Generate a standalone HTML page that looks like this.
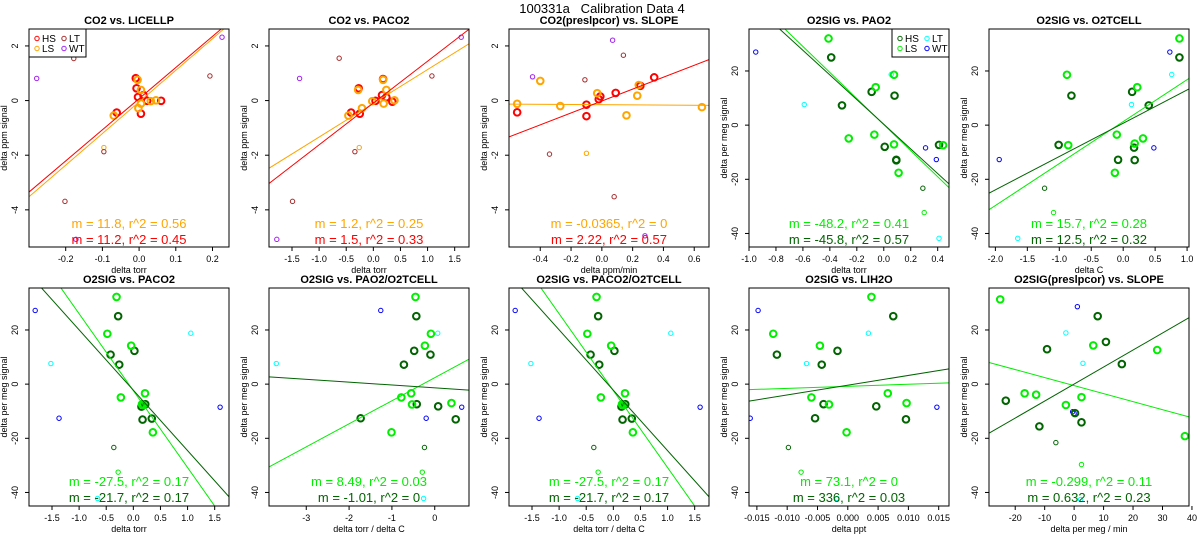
<!DOCTYPE html>
<html><head><meta charset="utf-8"><style>
body{margin:0;background:#fff;}
svg{display:block;font-family:"Liberation Sans",sans-serif;}
</style></head><body>
<svg id="chart" width="1200" height="550" viewBox="0 0 1200 550" xmlns="http://www.w3.org/2000/svg">
<rect x="0" y="0" width="1200" height="550" fill="#fff"/>
<text x="602" y="13" font-size="13" text-anchor="middle" xml:space="preserve">100331a   Calibration Data 4</text>
</svg>
<script>
// ---- data ----
const co2Groups = ['HS','HS','HS','HS','HS','HS','HS','HS','LS','LS','LS','LS','LS','LS','LS','LS','LSt','LT','LT','LT','LT','WT','WT','WT'];
const p1Groups = ['HS','HS','HS','HS','HS','HS','HS','HS','LS','LS','LS','LS','LS','LS','LS','LSt','LT','LT','LT','LT','WT','WT','WT'];
const o2Groups = ['HS','HS','HS','HS','HS','HS','HS','HS','LS','LS','LS','LS','LS','LS','LS','LS','HSt','LSt','LT','LT','LT','WT','WT','WT'];

const p1X = [-0.009,-0.007,-0.003,0.012,0.022,0.06,0.005,-0.061,-0.004,0.005,-0.002,0.005,0.032,0.046,-0.069,-0.096,-0.178,0.193,-0.096,-0.202,-0.279,0.226,-0.172];
const p1Y = [0.82,0.45,0.13,0.2,-0.01,-0.01,-0.48,-0.44,0.76,0.39,-0.28,-0.11,-0.02,0.01,-0.55,-1.72,1.54,0.9,-1.87,-3.69,0.81,2.32,-5.08];
const p2X = [0.18,-0.27,0.16,0.24,0.04,0.35,-0.25,-0.41,0.18,-0.28,0.24,-0.21,0.19,-0.02,0.39,-0.46,-0.26,-0.63,1.08,-0.34,-1.49,-1.36,1.62,-1.78];
const p2Y = [0.79,0.45,0.2,0.12,-0.01,-0.04,-0.48,-0.44,0.76,0.39,0.39,-0.28,-0.11,-0.02,0.01,-0.55,-1.72,1.55,0.9,-1.87,-3.69,0.81,2.32,-5.08];
const p3X = [-0.55,-0.1,-0.1,-0.02,-0.01,0.09,0.25,0.34,-0.55,-0.27,-0.4,-0.03,0.16,0.23,0.24,0.65,-0.1,-0.11,0.14,-0.34,0.08,-0.45,0.07,0.28];
const p3Y = [-0.43,-0.15,-0.57,0.05,0.15,0.28,0.54,0.85,-0.12,-0.2,0.72,0.27,-0.54,0.18,0.57,-0.24,-1.93,0.76,1.66,-1.96,-3.52,0.87,2.21,-4.95];
const p4X = [-0.39,-0.09,0.08,-0.31,0.007,0.41,0.093,0.093,-0.41,0.076,-0.06,-0.07,-0.26,0.076,0.44,0.11,0.29,0.3,0.055,-0.59,0.41,-0.95,0.31,0.39];
const p4Y = [25,12.3,10.9,7.3,-8,-7.3,-12.8,-13,32,18.6,14,-3.5,-4.9,-7.1,-7.4,-17.6,-23.3,-32.3,18.7,7.6,-41.8,27,-8.4,-12.7];
const p5X = [0.88,0.14,-0.81,0.4,0.17,-1.01,-0.08,0.18,0.88,-0.88,0.22,-0.1,0.31,0.18,-0.86,-0.13,-1.23,-1.09,0.76,0.13,-1.65,0.73,0.48,-1.94];
const p5Y = [25,12.3,10.9,7.3,-8.3,-7.3,-12.8,-12.9,32,18.6,14,-3.5,-4.9,-6.8,-7.4,-17.6,-23.3,-32.3,18.7,7.6,-41.8,27,-8.4,-12.7];
const p6X = [-0.28,-0.42,0.02,-0.26,0.15,0.22,0.17,0.34,-0.31,-0.48,-0.04,0.215,-0.23,0.16,0.18,0.36,-0.36,-0.28,1.06,-1.52,-0.66,-1.81,-1.37,1.6];
const p6Y = [25.1,10.9,12.3,7.2,-8.3,-7.4,-13.1,-12.7,32.2,18.6,14.2,-3.4,-4.9,-7.4,-7.7,-17.8,-23.4,-32.5,18.8,7.6,-42.2,27.2,-12.6,-8.5];
const p7X = [-0.43,-0.48,-0.1,-0.72,0.08,-0.42,-1.73,0.49,-0.45,-0.09,-0.23,-0.55,-0.78,-0.53,0.39,-1.01,-0.24,-0.29,0.07,-3.7,-0.26,-1.26,-0.2,0.63];
const p7Y = [25.1,12.3,10.9,7.2,-8.2,-7.4,-12.6,-13,32.2,18.6,14.2,-3.4,-4.9,-7.5,-7,-17.8,-23.4,-32.5,18.8,7.6,-42.2,27.2,-12.6,-8.5];
const p8X = [-0.28,-0.42,0.02,-0.26,0.15,0.22,0.17,0.34,-0.31,-0.48,-0.04,0.215,-0.23,0.16,0.18,0.36,-0.36,-0.28,1.06,-1.52,-0.66,-1.81,-1.37,1.6];
const p8Y = [25.1,10.9,12.3,7.2,-8.3,-7.4,-13.1,-12.7,32.2,18.6,14.2,-3.4,-4.9,-7.4,-7.7,-17.8,-23.4,-32.5,18.8,7.6,-42.2,27.2,-12.6,-8.5];
const p9X = [0.0075,-0.0117,-0.0017,-0.0043,0.0047,-0.004,-0.0054,0.0096,0.0039,-0.0123,-0.0046,0.0066,-0.006,-0.0031,0.0097,-0.0002,-0.0098,-0.0077,0.0034,-0.0068,-0.0018,-0.0148,-0.0161,0.0147];
const p9Y = [25.1,10.9,12.3,7.2,-8.2,-7.4,-12.6,-13,32.2,18.6,14.2,-3.4,-4.9,-7.5,-7,-17.8,-23.4,-32.5,18.8,7.6,-42.2,27.2,-12.6,-8.5];
const p10X = [8,10.8,-9.2,16.2,-23.2,0.3,-11.8,2.5,-25.1,6.5,28.2,-16.8,-12.9,2.5,-2.8,37.6,-6.2,2.5,-2.8,3,2.2,1.1,-0.5,0];
const p10Y = [25.1,15.6,12.9,7.4,-6.1,-10.7,-15.6,-14.1,31.3,14.3,12.6,-3.4,-3.9,-4.8,-7.7,-19.2,-21.6,-29.7,18.9,7.7,-42.6,28.6,-10.2,-10.8];

// fit lines [LS, HS]
const slopes = [[11.57,11.4],[1.236,1.53],[-0.0365,2.18],[-48.1,-45.5],[15.5,12.3],[-28.4,-22.3],[8.52,-1.05],[-28.4,-22.3],[76,360],[-0.296,0.628]];
const intercepts = [[-0.05,0.07],[-0.1,-0.09],[-0.15,-0.017],[0.2,0.33],[1.3,0.7],[-2.4,-2.25],[2.38,-1.36],[-2.4,-2.25],[-0.8,-0.39],[-0.54,0.03]];
const fitLabels = [
 ['m = 11.8, r^2 = 0.56','m = 11.2, r^2 = 0.45'],
 ['m = 1.2, r^2 = 0.25','m = 1.5, r^2 = 0.33'],
 ['m = -0.0365, r^2 = 0','m = 2.22, r^2 = 0.57'],
 ['m = -48.2, r^2 = 0.41','m = -45.8, r^2 = 0.57'],
 ['m = 15.7, r^2 = 0.28','m = 12.5, r^2 = 0.32'],
 ['m = -27.5, r^2 = 0.17','m = -21.7, r^2 = 0.17'],
 ['m = 8.49, r^2 = 0.03','m = -1.01, r^2 = 0'],
 ['m = -27.5, r^2 = 0.17','m = -21.7, r^2 = 0.17'],
 ['m = 73.1, r^2 = 0','m = 336, r^2 = 0.03'],
 ['m = -0.299, r^2 = 0.11','m = 0.632, r^2 = 0.23']];
const titles = ['CO2 vs. LICELLP','CO2 vs. PACO2','CO2(preslpcor) vs. SLOPE','O2SIG vs. PAO2','O2SIG vs. O2TCELL','O2SIG vs. PACO2','O2SIG vs. PAO2/O2TCELL','O2SIG vs. PACO2/O2TCELL','O2SIG vs. LIH2O','O2SIG(preslpcor) vs. SLOPE'];
const xTitles = ['delta torr','delta torr','delta ppm/min','delta torr','delta C','delta torr','delta torr / delta C','delta torr / delta C','delta ppt','delta per meg / min'];
const xTicks = [[-0.2,-0.1,0,0.1,0.2],[-1.5,-1,-0.5,0,0.5,1,1.5],[-0.4,-0.2,0,0.2,0.4,0.6],[-1,-0.8,-0.6,-0.4,-0.2,0,0.2,0.4],[-2,-1.5,-1,-0.5,0,0.5,1],[-1.5,-1,-0.5,0,0.5,1,1.5],[-3,-2,-1,0],[-1.5,-1,-0.5,0,0.5,1,1.5],[-0.015,-0.01,-0.005,0,0.005,0.01,0.015],[-20,-10,0,10,20,30,40]];
const xTickDigits = [1,1,1,1,1,1,0,1,3,0];
const co2YTicks = [-4,-2,0,2];
const o2YTicks = [-40,-20,0,20];

// ---- layout ----
const XS=[p1X,p2X,p3X,p4X,p5X,p6X,p7X,p8X,p9X,p10X];
const YS=[p1Y,p2Y,p3Y,p4Y,p5Y,p6Y,p7Y,p8Y,p9Y,p10Y];
const GS=[p1Groups,co2Groups,co2Groups,o2Groups,o2Groups,o2Groups,o2Groups,o2Groups,o2Groups,o2Groups];
const xlims=[[-0.3,0.245],[-1.924,1.764],[-0.603,0.696],[-1.0,0.484],[-2.1,1.03],[-1.924,1.764],[-3.87,0.8],[-1.924,1.764],[-0.0163,0.0167],[-28.9,39]];
const co2Col={HS:'#ff0000',LS:'#ffa500',LSt:'#ffa500',HSt:'#ff0000',LT:'#a52a2a',WT:'#a020f0'};
const o2Col={HS:'#006400',LS:'#00ee00',LSt:'#00ee00',HSt:'#006400',LT:'#00ffff',WT:'#0000ff'};
const NS='http://www.w3.org/2000/svg';
const svg=document.getElementById('chart');
function mk(tag,attrs,parent){const e=document.createElementNS(NS,tag);for(const k in attrs)e.setAttribute(k,attrs[k]);(parent||svg).appendChild(e);return e;}

for(let i=0;i<10;i++){
  const col=i%5,row=Math.floor(i/5);
  const L=29+240*col,R=L+200,T=row?288:29,B=row?506:247;
  const isCO2=i<3;
  const ylim=isCO2?[-5.36,2.62]:[-45,35.5];
  const xl=xlims[i];
  const sx=v=>L+(v-xl[0])/(xl[1]-xl[0])*(R-L);
  const sy=v=>B-(v-ylim[0])/(ylim[1]-ylim[0])*(B-T);
  const cols=isCO2?co2Col:o2Col;
  const g=mk('g',{});
  
  
  const clipId='clip'+i;
  const cp=mk('clipPath',{id:clipId},g);mk('rect',{x:L,y:T,width:R-L,height:B-T},cp);
  // title
  const t=mk('text',{x:(L+R)/2,y:T-5,'font-size':11,'font-weight':'bold','text-anchor':'middle'},g);t.textContent=titles[i];
  
  
  // points
  const pts=mk('g',{'clip-path':'url(#'+clipId+')'},g);
  const order=[...XS[i].keys()].sort((a,b)=>{const th=s=>(s==='HS'||s==='LS')?1:0;return th(GS[i][a])-th(GS[i][b]);});
  for(const k of order){
    const grp=GS[i][k];const thick=grp==='HS'||grp==='LS';
    const c=mk('circle',{cx:sx(XS[i][k]),cy:sy(YS[i][k]),r:thick?3.3:2.2,fill:'none',stroke:cols[grp],'stroke-width':thick?2:1},pts);
    
    
  }
  // fit lines
  for(let j=0;j<2;j++){
    const m=slopes[i][j],b=intercepts[i][j];
    const ln=mk('line',{x1:sx(xl[0]),y1:sy(m*xl[0]+b),x2:sx(xl[1]),y2:sy(m*xl[1]+b),stroke:j?cols.HS:cols.LS,'stroke-width':1},pts);
    
    
  }
  // box
  mk('rect',{x:L,y:T,width:R-L,height:B-T,fill:'none',stroke:'#000','stroke-width':1},g);
  // x ticks
  xTicks[i].forEach(v=>{
    const x=sx(v);
    mk('line',{x1:x,y1:B,x2:x,y2:B+4,stroke:'#000'},g);
    const tx=mk('text',{x:x,y:B+15,'font-size':9,'text-anchor':'middle'},g);tx.textContent=v.toFixed(xTickDigits[i]);
    
    
  });
  const xt=mk('text',{x:(L+R)/2,y:B+26,'font-size':9,'text-anchor':'middle'},g);xt.textContent=xTitles[i];
  
  
  // y ticks
  (isCO2?co2YTicks:o2YTicks).forEach(v=>{
    const y=sy(v);
    mk('line',{x1:L-4,y1:y,x2:L,y2:y,stroke:'#000'},g);
    const ty=mk('text',{x:L-11,y:y,'font-size':9,'text-anchor':'middle',transform:'rotate(-90 '+(L-11)+' '+y+')'},g);ty.textContent=String(v);
    
    
  });
  const yt=mk('text',{x:L-22,y:(T+B)/2,'font-size':9,'text-anchor':'middle',transform:'rotate(-90 '+(L-22)+' '+((T+B)/2)+')'},g);
  yt.textContent=isCO2?'delta ppm signal':'delta per meg signal';
  
  
  // annotations
  const yA=row?[481,497]:[223,239];
  for(let j=0;j<2;j++){
    const a=mk('text',{x:(L+R)/2,y:yA[j]+5,'font-size':13,'text-anchor':'middle',fill:j?cols.HS:cols.LS},g);
    a.textContent=fitLabels[i][j];
    
    
  }
  // legends
  if(i===0||i===3){
    const lx=i===0?L:R-57,ly=T;
    const lg=mk('g',{},g);
    
    
    mk('rect',{x:lx,y:ly,width:57,height:28,fill:'#fff',stroke:'#000'},lg);
    [['HS',0,0],['LS',0,1],['LT',1,0],['WT',1,1]].forEach(([n,c,r])=>{
      const cx=lx+8+c*27,cy=ly+9.5+r*10;
      mk('circle',{cx:cx,cy:cy,r:2.2,fill:'none',stroke:cols[n],'stroke-width':1},lg);
      const lt=mk('text',{x:cx+5,y:cy+3.5,'font-size':10},lg);lt.textContent=n;
      
      
    });
  }
}
</script>
</body></html>
